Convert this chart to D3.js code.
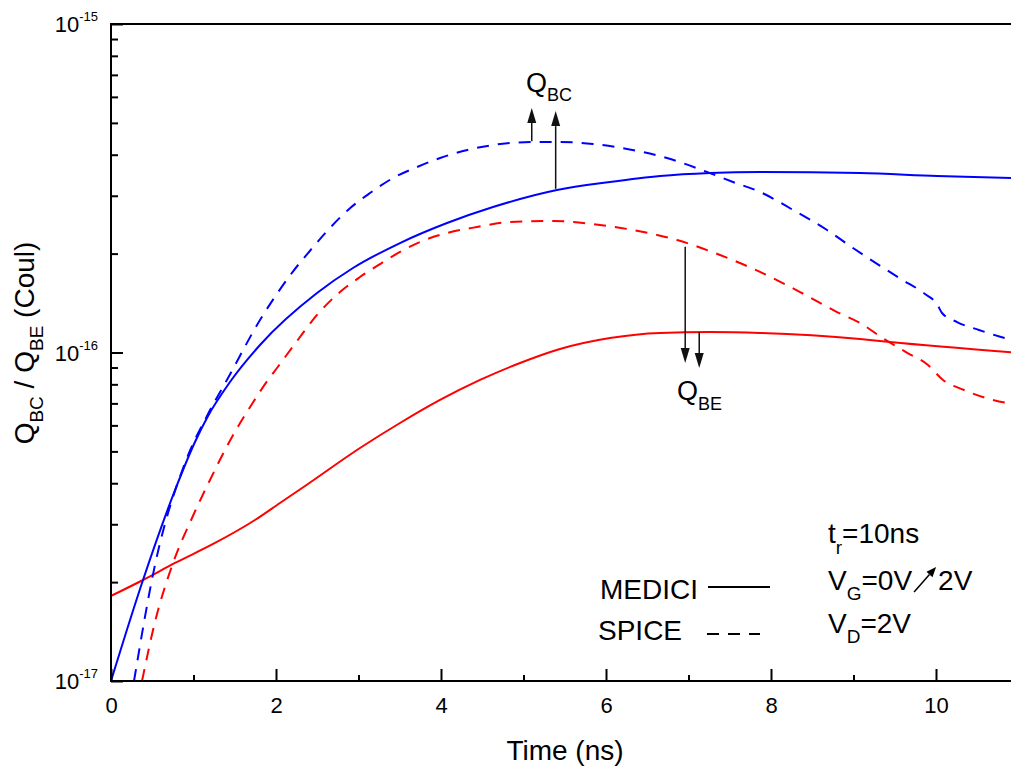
<!DOCTYPE html>
<html>
<head>
<meta charset="utf-8">
<script src="https://cdn.jsdelivr.net/npm/d3@7"></script>
<style>
  html, body { margin: 0; padding: 0; background: #fff; }
  svg { display: block; font-family: "Liberation Sans", Arial, Helvetica, sans-serif; }
</style>
</head>
<body>
<svg id="chart" width="1011" height="767"></svg>
<script>
// Junction charge during a 10 ns gate ramp (0 V -> 2 V), device simulation vs. compact model

// MEDICI, base-collector charge
const mediciQbcTime = [0, 0.388, 0.776, 1.018, 1.176, 1.442, 1.806, 2.497, 2.933, 3.503, 4.073, 4.630, 5.406, 6.048, 6.655, 7.261, 7.867, 9.079, 10.012, 10.95];
const mediciQbc = [1.0e-17, 2.03e-17, 3.81e-17, 5.34e-17, 6.41e-17, 8.13e-17, 1.054e-16, 1.517e-16, 1.808e-16, 2.154e-16, 2.478e-16, 2.772e-16, 3.124e-16, 3.304e-16, 3.446e-16, 3.519e-16, 3.544e-16, 3.519e-16, 3.446e-16, 3.398e-16];

// MEDICI, base-emitter charge
const mediciQbeTime = [0, 0.388, 0.776, 1.261, 1.745, 2.048, 2.352, 3.018, 3.503, 3.988, 4.473, 4.958, 5.442, 6.048, 6.655, 7.261, 7.867, 9.079, 9.442, 10.95];
const mediciQbe = [1.815e-17, 2.03e-17, 2.287e-17, 2.631e-17, 3.091e-17, 3.482e-17, 3.923e-17, 5.121e-17, 6.101e-17, 7.17e-17, 8.25e-17, 9.29e-17, 1.025e-16, 1.107e-16, 1.147e-16, 1.154e-16, 1.147e-16, 1.099e-16, 1.076e-16, 1.0e-16];

// SPICE, base-collector charge
const spiceQbcTime = [0.279, 0.533, 0.897, 1.176, 1.418, 1.806, 2.01, 2.21, 2.41, 2.62, 2.90, 3.14, 3.42, 3.71, 3.99, 4.32, 4.72, 5.12, 5.44, 5.842, 6.255, 6.739, 7.224, 7.539, 7.867, 8.267, 8.679, 8.994, 9.309, 9.576, 9.867, 10.012, 10.073, 10.255, 10.521, 10.788, 10.95];
const spiceQbc = [1.0e-17, 2.255e-17, 4.61e-17, 6.497e-17, 8.36e-17, 1.256e-16, 1.507e-16, 1.770e-16, 2.037e-16, 2.344e-16, 2.754e-16, 3.059e-16, 3.398e-16, 3.670e-16, 3.909e-16, 4.134e-16, 4.312e-16, 4.373e-16, 4.373e-16, 4.312e-16, 4.164e-16, 3.909e-16, 3.544e-16, 3.304e-16, 3.081e-16, 2.716e-16, 2.360e-16, 2.080e-16, 1.846e-16, 1.674e-16, 1.507e-16, 1.404e-16, 1.319e-16, 1.238e-16, 1.171e-16, 1.115e-16, 1.085e-16];

// SPICE, base-emitter charge
const spiceQbeTime = [0.376, 0.533, 0.752, 0.982, 1.176, 1.467, 1.709, 1.903, 2.012, 2.255, 2.497, 2.776, 3.018, 3.261, 3.503, 3.745, 4.073, 4.436, 4.836, 5.358, 5.842, 6.327, 6.861, 7.382, 7.867, 8.352, 8.8, 9.079, 9.370, 9.636, 9.903, 10.085, 10.339, 10.606, 10.873, 10.95];
const spiceQbe = [1.0e-17, 1.512e-17, 2.287e-17, 3.135e-17, 3.979e-17, 5.532e-17, 6.970e-17, 8.25e-17, 8.97e-17, 1.084e-16, 1.301e-16, 1.528e-16, 1.697e-16, 1.859e-16, 2.023e-16, 2.170e-16, 2.311e-16, 2.410e-16, 2.496e-16, 2.514e-16, 2.461e-16, 2.360e-16, 2.200e-16, 1.981e-16, 1.759e-16, 1.528e-16, 1.328e-16, 1.230e-16, 1.099e-16, 1.003e-16, 9.16e-17, 8.25e-17, 7.69e-17, 7.27e-17, 7.02e-17, 6.98e-17];

// Arrows pointing from the curves toward their labels
const arrowTime = [5.10, 5.39, 6.96, 7.13];
const arrowFrom = [4.40e-16, 3.15e-16, 2.10e-16, 1.154e-16];
const arrowTo = [5.55e-16, 5.43e-16, 9.29e-17, 8.97e-17];

// Axis ticks
const xMajorTicks = [0, 2, 4, 6, 8, 10];
const xMinorTicks = [1, 3, 5, 7, 9, 11];
const yDecadeTicks = [1e-17, 1e-16, 1e-15];
const yDecadeExponents = ["-17", "-16", "-15"];
const yMinorMantissas = [2, 3, 4, 5, 6, 7, 8, 9];

const svg = d3.select("#chart");
const plotLeft = 111, plotRight = 1011, plotTop = 24, plotBottom = 681;

const x = d3.scaleLinear().domain([0, 11]).range([plotLeft, plotLeft + 11 * 82.5]);
const y = d3.scaleLog().domain([1e-17, 1e-15]).range([plotBottom, plotTop]);

svg.append("defs").append("clipPath").attr("id", "plotClip")
  .append("rect").attr("x", plotLeft).attr("y", plotTop)
  .attr("width", plotRight - plotLeft).attr("height", plotBottom - plotTop);

const line = d3.line()
  .x(d => x(d[0]))
  .y(d => y(d[1]))
  .curve(d3.curveMonotoneX);

const series = [
  { t: mediciQbeTime, q: mediciQbe, color: "#ff0000", dash: null },
  { t: mediciQbcTime, q: mediciQbc, color: "#0000ff", dash: null },
  { t: spiceQbeTime, q: spiceQbe, color: "#ff0000", dash: "12,9" },
  { t: spiceQbcTime, q: spiceQbc, color: "#0000ff", dash: "12,9" }
];

const curves = svg.append("g").attr("clip-path", "url(#plotClip)");
series.forEach(s => {
  curves.append("path")
    .datum(d3.zip(s.t, s.q))
    .attr("d", line)
    .attr("fill", "none")
    .attr("stroke", s.color)
    .attr("stroke-width", 2)
    .attr("stroke-dasharray", s.dash);
});

// Axes (ticks point into the plot)
const xMajor = svg.append("g").attr("transform", `translate(0,${plotBottom})`)
  .call(d3.axisBottom(x).tickValues(xMajorTicks).tickSize(-12).tickPadding(16).tickFormat(d3.format("d")));
const xMinor = svg.append("g").attr("transform", `translate(0,${plotBottom})`)
  .call(d3.axisBottom(x).tickValues(xMinorTicks).tickSize(-6).tickFormat(""));
const yMinorTicks = [];
[1e-17, 1e-16].forEach(dec => yMinorMantissas.forEach(m => yMinorTicks.push(m * dec)));
const yMajor = svg.append("g").attr("transform", `translate(${plotLeft},0)`)
  .call(d3.axisLeft(y).tickValues(yDecadeTicks).tickSize(-12).tickFormat(""));
const yMinor = svg.append("g").attr("transform", `translate(${plotLeft},0)`)
  .call(d3.axisLeft(y).tickValues(yMinorTicks).tickSize(-7).tickFormat(""));

[xMajor, xMinor, yMajor, yMinor].forEach(g => {
  g.select(".domain").remove();
  g.selectAll(".tick line").attr("stroke", "#000").attr("stroke-width", 2);
  g.selectAll(".tick text").attr("fill", "#000").style("font-size", "22px")
    .style("font-family", "'Liberation Sans', Arial, sans-serif");
});

// Decade labels 10^n
yDecadeTicks.forEach((v, i) => {
  const t = svg.append("text")
    .attr("x", 98).attr("y", y(v) + 8)
    .attr("text-anchor", "end")
    .attr("fill", "#000");
  t.append("tspan").style("font-size", "22px").text("10");
  t.append("tspan").style("font-size", "13px").attr("dy", -11).text(yDecadeExponents[i]);
});

// Frame
const frame = svg.append("g").attr("stroke", "#000").attr("stroke-width", 2).attr("fill", "none");
frame.append("line").attr("x1", plotLeft).attr("y1", plotTop - 1).attr("x2", plotLeft).attr("y2", plotBottom + 1);
frame.append("line").attr("x1", plotLeft - 1).attr("y1", plotBottom).attr("x2", plotRight).attr("y2", plotBottom);
frame.append("line").attr("x1", plotLeft - 1).attr("y1", plotTop).attr("x2", plotRight).attr("y2", plotTop);

// Axis titles
svg.append("text")
  .attr("x", 565).attr("y", 760)
  .attr("text-anchor", "middle")
  .style("font-size", "28px")
  .attr("fill", "#000")
  .text("Time (ns)");

const yTitle = svg.append("text")
  .attr("transform", "translate(34,343) rotate(-90)")
  .attr("text-anchor", "middle")
  .style("font-size", "28px")
  .attr("fill", "#000");
yTitle.append("tspan").text("Q");
yTitle.append("tspan").style("font-size", "19px").attr("dy", 9).text("BC");
yTitle.append("tspan").attr("dy", -9).text(" / Q");
yTitle.append("tspan").style("font-size", "19px").attr("dy", 9).text("BE");
yTitle.append("tspan").attr("dy", -9).text(" (Coul)");

// Arrows
function arrow(g, x1, y1, x2, y2, len, half, color, width) {
  const dx = x2 - x1, dy = y2 - y1, L = Math.hypot(dx, dy);
  const ux = dx / L, uy = dy / L;
  const bx = x2 - ux * len, by = y2 - uy * len;
  g.append("line")
    .attr("x1", x1).attr("y1", y1).attr("x2", bx).attr("y2", by)
    .attr("stroke", color).attr("stroke-width", width);
  g.append("path")
    .attr("d", `M${x2},${y2}L${bx - uy * half},${by + ux * half}L${bx + uy * half},${by - ux * half}Z`)
    .attr("fill", color);
}
const arrows = svg.append("g");
arrowTime.forEach((t, i) => {
  arrow(arrows, x(t), y(arrowFrom[i]), x(t), y(arrowTo[i]), 15, 4.5, "#111", 1.5);
});

// Curve labels
function subLabel(xp, yp, main, sub, size, subSize, shift) {
  const t = svg.append("text").attr("x", xp).attr("y", yp).attr("fill", "#000").style("font-size", size + "px");
  t.append("tspan").text(main);
  t.append("tspan").style("font-size", subSize + "px").attr("dy", shift).text(sub);
  return t;
}
subLabel(526, 92, "Q", "BC", 27, 18, 9);
subLabel(677, 400, "Q", "BE", 27, 18, 10);

// Legend
svg.append("text").attr("x", 600).attr("y", 599).style("font-size", "28px").attr("fill", "#000").text("MEDICI");
svg.append("line").attr("x1", 708).attr("y1", 587).attr("x2", 770).attr("y2", 587)
  .attr("stroke", "#000").attr("stroke-width", 2);
svg.append("text").attr("x", 598).attr("y", 640).style("font-size", "28px").attr("fill", "#000").text("SPICE");
svg.append("line").attr("x1", 707).attr("y1", 634).attr("x2", 760).attr("y2", 634)
  .attr("stroke", "#000").attr("stroke-width", 2).attr("stroke-dasharray", "12,9");

// Bias conditions
const tr = svg.append("text").attr("x", 828).attr("y", 543).style("font-size", "28px").attr("fill", "#000");
tr.append("tspan").text("t");
tr.append("tspan").style("font-size", "19px").attr("dy", 11).text("r");
tr.append("tspan").attr("dy", -11).text("=10ns");

const vg = svg.append("text").attr("x", 828).attr("y", 590).style("font-size", "28px").attr("fill", "#000");
vg.append("tspan").text("V");
vg.append("tspan").style("font-size", "19px").attr("dy", 10).text("G");
vg.append("tspan").attr("dy", -10).text("=0V");
const vgEnd = 828 + vg.node().getComputedTextLength();
arrow(svg, vgEnd + 2, 592, vgEnd + 24, 567, 10, 4, "#000", 1.5);
svg.append("text").attr("x", vgEnd + 26).attr("y", 590).style("font-size", "28px").attr("fill", "#000").text("2V");

const vd = svg.append("text").attr("x", 828).attr("y", 633).style("font-size", "28px").attr("fill", "#000");
vd.append("tspan").text("V");
vd.append("tspan").style("font-size", "19px").attr("dy", 10).text("D");
vd.append("tspan").attr("dy", -10).text("=2V");
</script>
</body>
</html>
